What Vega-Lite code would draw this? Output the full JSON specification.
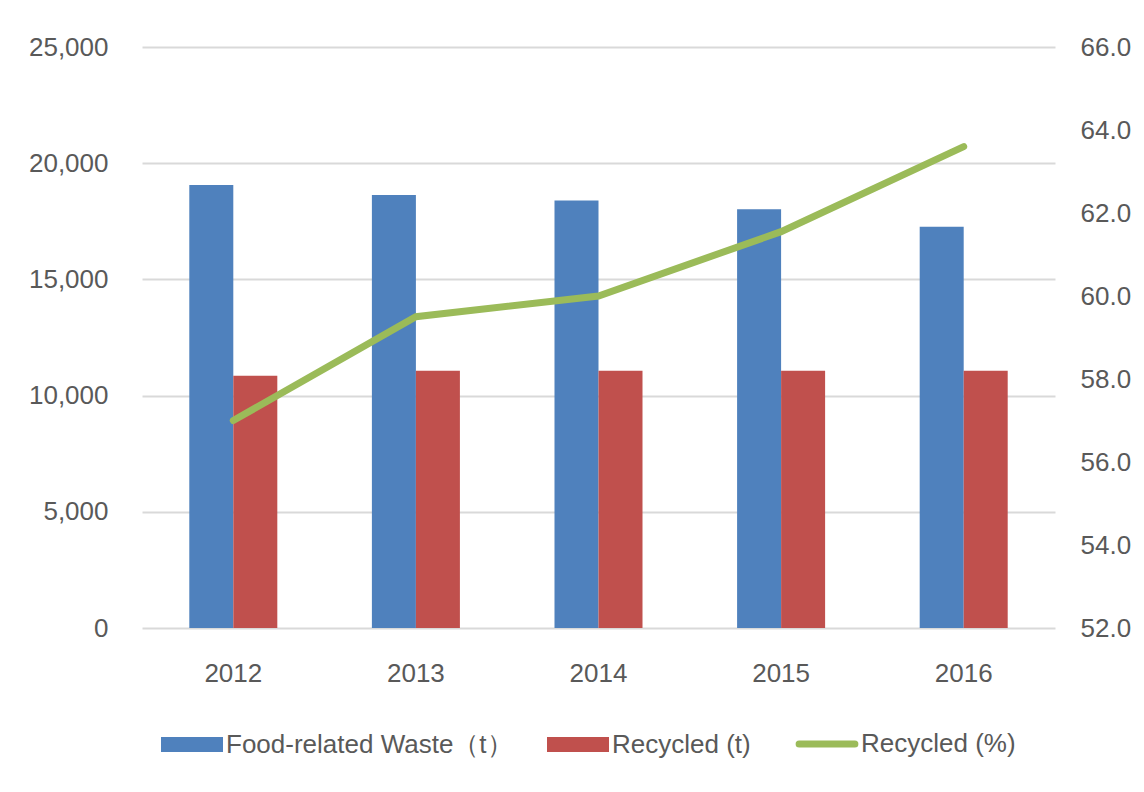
{
  "$schema": "https://vega.github.io/schema/vega-lite/v6.json",
  "autosize": "none",
  "width": 913,
  "height": 581,
  "padding": {"left": 142, "top": 47, "right": 89, "bottom": 164},
  "background": "white",
  "config": {
    "view": {"stroke": null},
    "font": "Liberation Sans",
    "axis": {"labelFont": "Liberation Sans", "labelFontSize": 26, "labelColor": "#595959", "domain": false, "ticks": false, "title": null}
  },
  "datasets": {
    "bars": [
      {"year": "2012", "series": "Food-related Waste（t）", "tons": 19060},
      {"year": "2012", "series": "Recycled (t)", "tons": 10850},
      {"year": "2013", "series": "Food-related Waste（t）", "tons": 18630},
      {"year": "2013", "series": "Recycled (t)", "tons": 11070},
      {"year": "2014", "series": "Food-related Waste（t）", "tons": 18390},
      {"year": "2014", "series": "Recycled (t)", "tons": 11070},
      {"year": "2015", "series": "Food-related Waste（t）", "tons": 18020},
      {"year": "2015", "series": "Recycled (t)", "tons": 11070},
      {"year": "2016", "series": "Food-related Waste（t）", "tons": 17270},
      {"year": "2016", "series": "Recycled (t)", "tons": 11070}
    ],
    "pct": [
      {"year": "2012", "series": "Recycled (%)", "pct": 57.0},
      {"year": "2013", "series": "Recycled (%)", "pct": 59.5},
      {"year": "2014", "series": "Recycled (%)", "pct": 60.0},
      {"year": "2015", "series": "Recycled (%)", "pct": 61.55},
      {"year": "2016", "series": "Recycled (%)", "pct": 63.6}
    ]
  },
  "encoding": {
    "x": {
      "field": "year", "type": "nominal",
      "scale": {"paddingInner": 0.518, "paddingOuter": 0.259},
      "axis": {"labelAngle": 0, "labelPadding": 32, "grid": false}
    }
  },
  "layer": [
    {
      "data": {"name": "bars"},
      "mark": {"type": "bar"},
      "encoding": {
        "xOffset": {"field": "series", "type": "nominal", "sort": ["Food-related Waste（t）", "Recycled (t)"], "scale": {"paddingInner": 0, "paddingOuter": 0}},
        "y": {
          "field": "tons", "type": "quantitative",
          "scale": {"domain": [0, 25000], "nice": false},
          "axis": {"orient": "left", "values": [0, 5000, 10000, 15000, 20000, 25000], "format": ",.0f", "labelPadding": 34, "grid": true, "gridColor": "#D9D9D9", "gridWidth": 2}
        },
        "color": {
          "field": "series", "type": "nominal",
          "scale": {"domain": ["Food-related Waste（t）", "Recycled (t)", "Recycled (%)"], "range": ["#4F81BD", "#C0504D", "#9BBB59"]},
          "legend": {
            "orient": "none", "legendX": 37, "legendY": 684,
            "direction": "horizontal", "title": null,
            "columns": 3,
            "columnPadding": 34,
            "symbolSize": 3844,
            "symbolType": "M-1,-0.24H1V0.24H-1Z",
            "labelFont": "Liberation Sans",
            "labelFontSize": 26, "labelColor": "#595959", "labelOffset": 21,
            "symbolStrokeWidth": 0,
            "labelLimit": 400,
            "encode": {
              "symbols": {
                "update": {
                  "shape": {"signal": "datum.value === 'Recycled (%)' ? 'M-0.9,0H0.9' : 'M-1,-0.24H1V0.24H-1Z'"},
                  "fill": {"signal": "datum.value === 'Recycled (%)' ? 'transparent' : scale('color', datum.value)"},
                  "stroke": {"signal": "scale('color', datum.value)"},
                  "strokeWidth": {"signal": "datum.value === 'Recycled (%)' ? 7 : 0"},
                  "strokeCap": {"value": "round"},
                  "opacity": {"value": 1}
                }
              }
            }
          }
        }
      }
    },
    {
      "data": {"name": "pct"},
      "mark": {"type": "line", "strokeWidth": 7, "strokeCap": "round", "strokeJoin": "miter"},
      "encoding": {
        "y": {
          "field": "pct", "type": "quantitative",
          "scale": {"domain": [52, 66], "nice": false, "zero": false},
          "axis": {"orient": "right", "values": [52, 54, 56, 58, 60, 62, 64, 66], "format": ".1f", "labelPadding": 25, "grid": false}
        },
        "color": {"field": "series", "type": "nominal"}
      }
    }
  ],
  "resolve": {"scale": {"y": "independent"}}
}
